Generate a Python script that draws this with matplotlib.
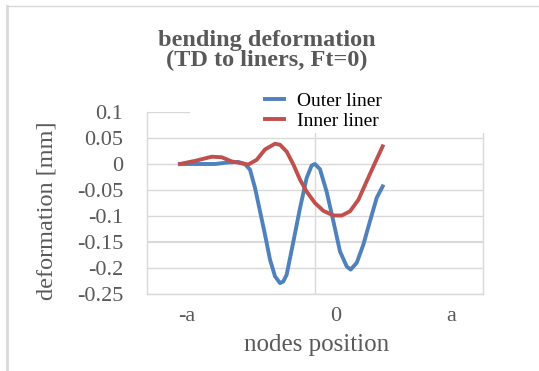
import matplotlib.pyplot as plt
from matplotlib.patches import Rectangle

# node position in units of a, deformation in mm
outer_x = [-1.00, -0.889, -0.741, -0.642, -0.568, -0.519, -0.481, -0.444, -0.407, -0.370,
           -0.333, -0.296, -0.259, -0.235, -0.210, -0.160, -0.111, -0.062, -0.025, 0.00,
           0.037, 0.086, 0.136, 0.185, 0.235, 0.264, 0.309, 0.358, 0.407, 0.457, 0.501]
outer_y = [0.000, 0.000, 0.000, 0.003, 0.004, 0.000, -0.011, -0.046, -0.091, -0.136,
           -0.184, -0.216, -0.229, -0.226, -0.213, -0.149, -0.085, -0.027, -0.003, 0.000,
           -0.010, -0.053, -0.110, -0.168, -0.197, -0.203, -0.190, -0.155, -0.110, -0.065,
           -0.043]

inner_x = [-1.00, -0.889, -0.765, -0.691, -0.617, -0.494, -0.432, -0.370, -0.296, -0.259,
           -0.210, -0.160, -0.111, -0.062, 0.00, 0.062, 0.136, 0.198, 0.259, 0.321,
           0.383, 0.444, 0.501]
inner_y = [0.000, 0.006, 0.014, 0.013, 0.005, -0.001, 0.008, 0.028, 0.039, 0.037,
           0.024, -0.001, -0.030, -0.053, -0.075, -0.090, -0.099, -0.099, -0.091, -0.069,
           -0.033, 0.002, 0.034]

y_ticks = [0.1, 0.05, 0, -0.05, -0.1, -0.15, -0.2, -0.25]
y_labels = ["0.1", "0.05", "0", "-0.05", "-0.1", "-0.15", "-0.2", "-0.25"]
x_tick_pos = [-0.95, 0.15, 1.01]
x_labels = ["-a", "0", "a"]

plt.rcParams["font.family"] = ["Liberation Serif", "DejaVu Serif"]
text_col = "#595959"
grid_col = "#d9d9d9"

fig = plt.figure(figsize=(5.39, 3.71), dpi=100)
ax = fig.add_axes([0.2727, 0.2075, 0.6234, 0.4906])

ax.set_xlim(-1.244, 1.244)
ax.set_ylim(-0.25, 0.1)

for yv in y_ticks:
    ax.axhline(yv, color=grid_col, lw=1.5 if yv == -0.15 else 1.0, zorder=1)
ax.axvline(0, color=grid_col, lw=1.0, zorder=1)

for side in ["left", "right", "bottom"]:
    ax.spines[side].set_color(grid_col)
    ax.spines[side].set_linewidth(1.0)
ax.spines["top"].set_visible(False)

ax.set_yticks(y_ticks, y_labels)
ax.set_xticks(x_tick_pos, x_labels)
ax.tick_params(axis="y", length=0, pad=17, labelsize=16, labelcolor=text_col)
ax.tick_params(axis="x", length=0, pad=9, labelsize=16, labelcolor=text_col)

# white area behind the legend hides the upper grid and frame
ax.add_patch(Rectangle((0.128, 0.885), 0.9, 0.2, transform=ax.transAxes,
                       facecolor="white", edgecolor="none", zorder=3, clip_on=False))

ax.plot(outer_x, outer_y, color="#4f81bd", lw=2.8, label="Outer liner", zorder=4,
        solid_joinstyle="round")
ax.plot(inner_x, inner_y, color="#c0504d", lw=2.8, label="Inner liner", zorder=4,
        solid_joinstyle="round")

leg = ax.legend(loc="center left", bbox_to_anchor=(265 / 539, 1 - 111 / 371),
                bbox_transform=fig.transFigure, frameon=False, fontsize=14,
                handlelength=1.0, handletextpad=0.65, labelspacing=0.15,
                borderpad=0, borderaxespad=0)
leg.set_zorder(5)

fig.text(0.495, 0.863, "bending deformation\n(TD to liners, Ft=0)", ha="center",
         va="center", fontsize=17.5, fontweight="bold", color=text_col, linespacing=0.92)
fig.text(0.087, 0.431, "deformation [mm]", rotation=90, ha="center", va="center",
         fontsize=17.5, color=text_col)
fig.text(0.588, 0.07, "nodes position", ha="center", va="center",
         fontsize=18, color=text_col)

# outer frame of the chart area
fig.add_artist(plt.Line2D([7 / 539, 7 / 539], [0, 1 - 5.5 / 371],
                          color=grid_col, lw=2.0))
fig.add_artist(plt.Line2D([7 / 539, 1], [1 - 5.5 / 371, 1 - 5.5 / 371],
                          color=grid_col, lw=1.0))

fig.savefig("out.png", dpi=100)
